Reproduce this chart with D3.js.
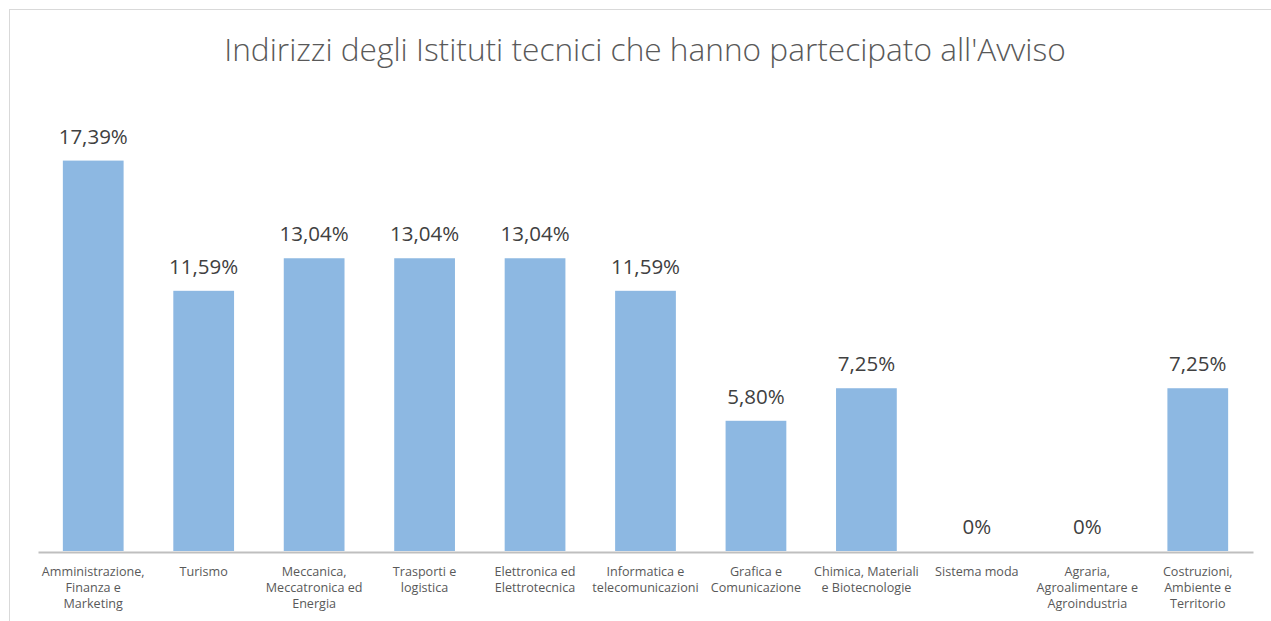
<!DOCTYPE html>
<html>
<head>
<meta charset="utf-8">
<script src="https://cdn.jsdelivr.net/npm/d3@7"></script>
<style>
  html, body { margin: 0; padding: 0; background: #fff; }
  svg { display: block; font-family: "Open Sans", "DejaVu Sans", sans-serif; }
</style>
</head>
<body>
<div id="chart"></div>
<script>
// data
var categories = [
	["Amministrazione,", "Finanza e", "Marketing"],
	["Turismo"],
	["Meccanica,", "Meccatronica ed", "Energia"],
	["Trasporti e", "logistica"],
	["Elettronica ed", "Elettrotecnica"],
	["Informatica e", "telecomunicazioni"],
	["Grafica e", "Comunicazione"],
	["Chimica, Materiali", "e Biotecnologie"],
	["Sistema moda"],
	["Agraria,", "Agroalimentare e", "Agroindustria"],
	["Costruzioni,", "Ambiente e", "Territorio"]
];
var values = [17.39, 11.59, 13.04, 13.04, 13.04, 11.59, 5.80, 7.25, 0, 0, 7.25];
var title = "Indirizzi degli Istituti tecnici che hanno partecipato all'Avviso";

var W = 1271, H = 621;
var plot = { left: 38, right: 1253, top: 102, bottom: 551 };

var svg = d3.select("#chart").append("svg")
	.attr("width", W)
	.attr("height", H);

// chart frame (right / bottom edges fall outside the picture)
svg.append("rect")
	.attr("x", 9.5).attr("y", 9.5)
	.attr("width", W + 20).attr("height", H + 20)
	.attr("fill", "#fff")
	.attr("stroke", "#d9d9d9");

var keys = categories.map(c => c.join(" "));

var x = d3.scaleBand()
	.domain(keys)
	.range([plot.left, plot.right])
	.paddingInner(0.45)
	.paddingOuter(0.225);

var y = d3.scaleLinear()
	.domain([0, 20])
	.range([plot.bottom, plot.top]);

// title, sized to the width it has in the reference
var t = svg.append("text")
	.attr("x", 645)
	.attr("y", 61)
	.attr("text-anchor", "middle")
	.attr("fill", "#595959")
	.style("font-weight", 300)
	.style("font-size", "28px")
	.text(title);
var tw = t.node().getComputedTextLength();
t.style("font-size", (28 * 842 / tw) + "px");

var data = keys.map((k, i) => ({ key: k, lines: categories[i], value: values[i] }));

svg.append("g").selectAll("rect")
	.data(data)
	.enter()
	.append("rect")
	.attr("x", d => x(d.key))
	.attr("y", d => y(d.value))
	.attr("width", x.bandwidth())
	.attr("height", d => y(0) - y(d.value))
	.attr("fill", "#8db8e2");

var fmt = v => v === 0 ? "0%" : v.toFixed(2).replace(".", ",") + "%";

svg.append("g").selectAll("text")
	.data(data)
	.enter()
	.append("text")
	.attr("x", d => x(d.key) + x.bandwidth() / 2)
	.attr("y", d => y(d.value) - 17)
	.attr("text-anchor", "middle")
	.attr("fill", "#404040")
	.style("font-size", "20.5px")
	.text(d => fmt(d.value));

// axis
var xAxis = d3.axisBottom(x).tickSize(0).tickFormat("");
var ax = svg.append("g")
	.attr("transform", `translate(0,${plot.bottom + 1})`)
	.call(xAxis);
ax.select(".domain")
	.attr("stroke", "#bfbfbf")
	.attr("stroke-width", 2);

var lab = svg.append("g").selectAll("text")
	.data(data)
	.enter()
	.append("text")
	.attr("x", d => x(d.key) + x.bandwidth() / 2)
	.attr("y", 576)
	.attr("text-anchor", "middle")
	.attr("fill", "#595959")
	.style("font-size", "12.6px");
lab.selectAll("tspan")
	.data(d => d.lines.map(l => ({ l: l, cx: x(d.key) + x.bandwidth() / 2 })))
	.enter()
	.append("tspan")
	.attr("x", d => d.cx)
	.attr("dy", (d, i) => i === 0 ? 0 : 16)
	.text(d => d.l);
</script>
</body>
</html>
